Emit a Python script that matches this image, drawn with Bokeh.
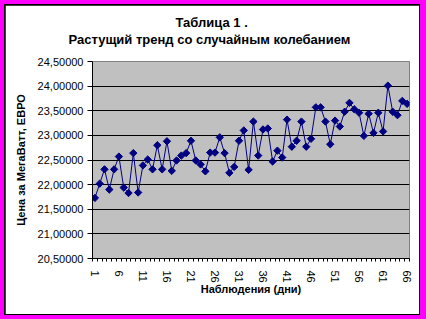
import math
from bokeh.plotting import figure
from bokeh.models import Range1d, FixedTicker, Title, ColumnDataSource
from bokeh.layouts import column
from bokeh.embed import file_html
from bokeh.resources import INLINE

days = list(range(1, 67))
prices = [21.73, 22.02, 22.31, 21.90, 22.31, 22.57, 21.94, 21.83, 22.64, 21.84,
          22.39, 22.51, 22.31, 22.80, 22.31, 22.88, 22.28, 22.49, 22.59, 22.64,
          22.89, 22.49, 22.41, 22.27, 22.65, 22.65, 22.96, 22.64, 22.24, 22.36,
          22.89, 23.10, 22.30, 23.28, 22.59, 23.12, 23.14, 22.47, 22.69, 22.55,
          23.32, 22.77, 22.89, 23.28, 22.77, 22.93, 23.57, 23.57, 23.28, 22.82,
          23.30, 23.18, 23.48, 23.66, 23.53, 23.46, 22.99, 23.44, 23.05, 23.46,
          23.08, 24.01, 23.48, 23.41, 23.70, 23.64]
x_tick_values = [1, 6, 11, 16, 21, 26, 31, 36, 41, 46, 51, 56, 61, 66]
y_tick_values = [20.5, 21.0, 21.5, 22.0, 22.5, 23.0, 23.5, 24.0, 24.5]
y_tick_labels = ["20,50000", "21,00000", "21,50000", "22,00000", "22,50000",
                 "23,00000", "23,50000", "24,00000", "24,50000"]
title_line1 = "Таблица 1 ."
title_line2 = "Растущий тренд со случайным колебанием"
x_label = "Наблюдения (дни)"
y_label = "Цена за МегаВатт, ЕВРО"

FONT = "Liberation Sans"
NAVY = "#000080"

p = figure(width=414, height=309, output_backend="svg", toolbar_location=None,
           x_range=Range1d(0.5, 66.5), y_range=Range1d(20.5, 24.5),
           min_border_left=87, min_border_right=10, min_border_top=56, min_border_bottom=56)
p.background_fill_color = "#C0C0C0"
p.border_fill_color = "white"
p.outline_line_color = "#808080"
p.outline_line_width = 1

src = ColumnDataSource(data=dict(x=days, y=prices))
p.line("x", "y", source=src, line_color=NAVY, line_width=1)
p.scatter("x", "y", source=src, marker="square", angle=math.pi / 4, size=5.2,
          fill_color=NAVY, line_color=NAVY)

# x axis
xa = p.xaxis[0]
xa.ticker = FixedTicker(ticks=x_tick_values, minor_ticks=[d - 0.5 for d in days] + [days[-1] + 0.5])
xa.major_tick_out = 0
xa.major_tick_in = 0
xa.minor_tick_out = 3
xa.minor_tick_in = 0
xa.minor_tick_line_color = "black"
xa.axis_line_color = "black"
xa.major_label_orientation = "vertical"
xa.major_label_standoff = 9
xa.major_label_text_font = FONT
xa.major_label_text_font_size = "11px"
xa.major_label_text_color = "black"
xa.axis_label = x_label
xa.axis_label_text_font = FONT
xa.axis_label_text_font_size = "11px"
xa.axis_label_text_font_style = "bold"
xa.axis_label_text_color = "black"
xa.axis_label_standoff = -3

# y axis
ya = p.yaxis[0]
ya.ticker = FixedTicker(ticks=y_tick_values, minor_ticks=[])
ya.major_label_overrides = {v: s for v, s in zip(y_tick_values, y_tick_labels)}
ya.major_tick_out = 5
ya.major_tick_in = 0
ya.major_tick_line_color = "black"
ya.axis_line_color = "black"
ya.major_label_standoff = 4
ya.major_label_text_font = FONT
ya.major_label_text_font_size = "11px"
ya.major_label_text_color = "black"
ya.axis_label = y_label
ya.axis_label_text_font = FONT
ya.axis_label_text_font_size = "11px"
ya.axis_label_text_font_style = "bold"
ya.axis_label_text_color = "black"
ya.axis_label_standoff = 8

p.xgrid.visible = False
p.ygrid.grid_line_color = "black"
p.ygrid.grid_line_width = 1

spacer = Title(text=" ", text_font_size="1px", standoff=12)
t2 = Title(text=title_line2, align="left", offset=-24, text_font=FONT,
           text_font_size="13px", text_font_style="bold", text_color="black", standoff=0)
t1 = Title(text=title_line1, align="left", offset=83, text_font=FONT,
           text_font_size="13px", text_font_style="bold", text_color="black", standoff=0)
p.add_layout(spacer, "above")
p.add_layout(t2, "above")
p.add_layout(t1, "above")

p.margin = (1, 1, 1, 1)
inner = column(p, margin=(4, 6, 4, 4), styles={"background-color": "black"})
outer = column(inner, styles={"background-color": "#FF00FF"})

open("out.html", "w").write(file_html(outer, INLINE))
